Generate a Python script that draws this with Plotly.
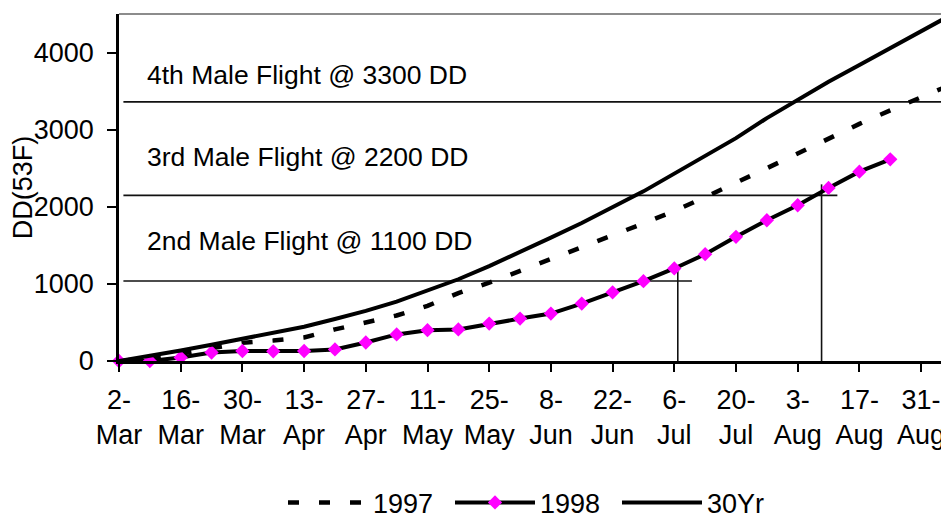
import pandas as pd
import plotly.graph_objects as go

# ---------------- data ----------------
week_dates = pd.date_range("1998-03-02", periods=28, freq="7D").strftime("%Y-%m-%d").tolist()

dd_1997 = [0, 35, 95, 165, 235, 265, 305, 410, 500, 590, 715, 880, 1015, 1165,
           1320, 1475, 1630, 1785, 1945, 2125, 2305, 2500, 2690, 2890, 3075, 3250, 3425, 3590]
dd_1998 = [0, 0, 45, 110, 130, 125, 130, 150, 240, 345, 400, 410, 485, 550,
           615, 745, 890, 1035, 1200, 1385, 1610, 1825, 2020, 2245, 2455, 2615]
dd_30yr = [0, 65, 135, 210, 285, 360, 445, 545, 650, 770, 915, 1060, 1230, 1410,
           1600, 1790, 1990, 2200, 2430, 2660, 2890, 3150, 3390, 3620, 3840, 4060, 4280, 4495]

tick_dates = ["1998-03-02", "1998-03-16", "1998-03-30", "1998-04-13", "1998-04-27",
              "1998-05-11", "1998-05-25", "1998-06-08", "1998-06-22", "1998-07-06",
              "1998-07-20", "1998-08-03", "1998-08-17", "1998-08-31"]
tick_labels = ["2-<br>Mar", "16-<br>Mar", "30-<br>Mar", "13-<br>Apr", "27-<br>Apr",
               "11-<br>May", "25-<br>May", "8-<br>Jun", "22-<br>Jun", "6-<br>Jul",
               "20-<br>Jul", "3-<br>Aug", "17-<br>Aug", "31-<br>Aug"]
y_ticks = [0, 1000, 2000, 3000, 4000]

flight_labels = ["2nd Male Flight @ 1100 DD", "3rd Male Flight @ 2200 DD", "4th Male Flight @ 3300 DD"]
flight_label_dd = [1557, 2649, 3710]
flight_label_date = "1998-03-08"
flight_line_dd = [1037, 2148, 3360]
flight_line_start = "1998-03-03"
flight_line_end = ["1998-07-10", "1998-08-12", "1998-09-12"]
cross_dates = ["1998-07-06 19:00", "1998-08-08 10:00"]
cross_top_dd = [1221, 2291]

x_range = ["1998-03-02", "1998-09-08 03:30"]
y_range = [0, 4500]

FONT = "Liberation Sans, Arial, sans-serif"

fig = go.Figure()

# reference lines (drawn first, below the data)
for dd, end in zip(flight_line_dd, flight_line_end):
    fig.add_trace(go.Scatter(x=[flight_line_start, end], y=[dd, dd], mode="lines",
                             line=dict(color="#111111", width=1.6),
                             showlegend=False, hoverinfo="skip"))
for d, top in zip(cross_dates, cross_top_dd):
    fig.add_trace(go.Scatter(x=[d, d], y=[0, top], mode="lines",
                             line=dict(color="#111111", width=1.6),
                             showlegend=False, hoverinfo="skip"))

fig.add_trace(go.Scatter(x=week_dates, y=dd_1997, name="1997", mode="lines",
                         line=dict(color="black", width=4.5, dash="11px,20px")))
fig.add_trace(go.Scatter(x=week_dates[:len(dd_1998)], y=dd_1998, name="1998", mode="lines+markers",
                         line=dict(color="black", width=4),
                         marker=dict(symbol="diamond", size=11, color="#FF00FF",
                                     line=dict(width=0)),
                         cliponaxis=False))
fig.add_trace(go.Scatter(x=week_dates, y=dd_30yr, name="30Yr", mode="lines",
                         line=dict(color="black", width=4)))

for txt, dd in zip(flight_labels, flight_label_dd):
    fig.add_annotation(x=flight_label_date, y=dd, text=txt, showarrow=False,
                       xanchor="left", yanchor="middle",
                       font=dict(family=FONT, size=26.5, color="black"))

fig.add_shape(type="line", xref="paper", yref="paper", x0=0, x1=1, y0=1, y1=1,
              line=dict(color="#8c8c8c", width=2))

fig.update_layout(
    width=949, height=545, autosize=False,
    margin=dict(l=111, r=0, t=6, b=192),
    paper_bgcolor="white", plot_bgcolor="white",
    font=dict(family=FONT, size=27, color="black"),
    showlegend=True,
    legend=dict(orientation="h", x=0.1957, xanchor="left", y=-0.409, yanchor="middle",
                font=dict(family=FONT, size=27, color="black"),
                itemwidth=80, entrywidth=72, entrywidthmode="pixels",
                bgcolor="rgba(0,0,0,0)", traceorder="normal"),
    xaxis=dict(type="date", range=x_range, tickvals=tick_dates, ticktext=tick_labels,
               showline=True, linecolor="black", linewidth=2.5,
               ticks="outside", ticklen=8, tickwidth=2, tickcolor="black",
               ticklabelstandoff=5, tickangle=0, automargin=False,
               showgrid=False, zeroline=False,
               tickfont=dict(family=FONT, size=27, color="black")),
    yaxis=dict(range=y_range, tickvals=y_ticks,
               showline=True, linecolor="black", linewidth=2.5,
               ticks="outside", ticklen=9, tickwidth=2, tickcolor="black",
               ticklabelstandoff=8, automargin=False,
               showgrid=False, zeroline=False,
               tickfont=dict(family=FONT, size=27, color="black"),
               title=dict(text="DD(53F)", standoff=2,
                          font=dict(family=FONT, size=27, color="black"))),
)

fig.write_html("out.html")
